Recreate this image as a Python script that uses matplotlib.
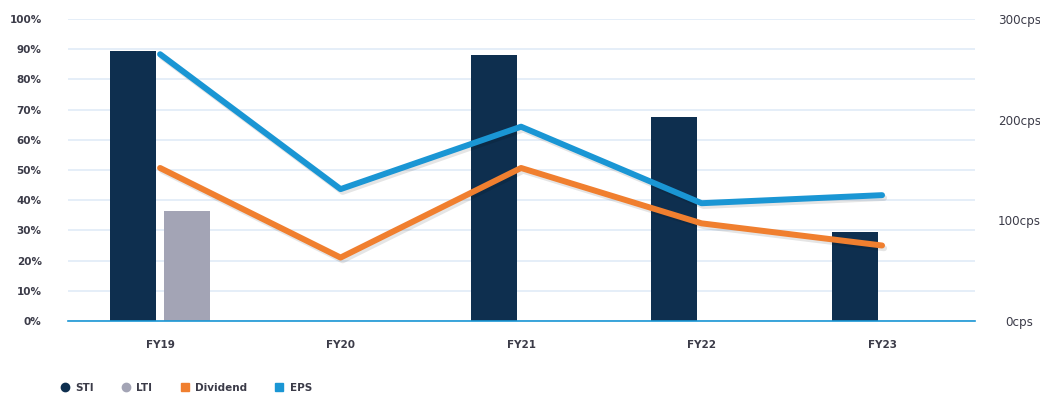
import matplotlib
matplotlib.use("Agg")
import matplotlib.pyplot as plt
import matplotlib.patheffects as pe
from matplotlib.lines import Line2D
import numpy as np

categories = ["FY19", "FY20", "FY21", "FY22", "FY23"]
sti = [89.5, 0, 88, 67.5, 29.5]          # % of max
lti = [36.5, 0, 0, 0, 0]                 # % of max
dividend = [152, 63, 152, 97, 75]        # cps
eps = [265, 131, 193, 117, 125]          # cps

left_ticks = list(range(0, 101, 10))
left_labels = [f"{v}%" for v in left_ticks]
right_ticks = [0, 100, 200, 300]
right_labels = [f"{v}cps" for v in right_ticks]

C_STI = "#0e2f4f"
C_LTI = "#a3a4b5"
C_DIV = "#f07f2f"
C_EPS = "#1a96d4"
C_GRID = "#e3edf8"
C_TXT = "#3b3b48"

plt.rcParams['font.family'] = ['DejaVu Sans']

fig = plt.figure(figsize=(10.4, 3.94), dpi=100)
ax = fig.add_axes([0.0654, 0.1853, 0.9375 - 0.0654, 0.9518 - 0.1853])
x = np.arange(len(categories))
w = 0.255
off = 0.15

ax.bar(x - off, sti, width=w, color=C_STI, zorder=2)
ax.bar(x + off, lti, width=w, color=C_LTI, zorder=2)

ax.set_ylim(0, 100)
ax.set_xlim(-0.51, 4.515)
ax.set_yticks(left_ticks)
ax.set_yticklabels(left_labels)
ax.yaxis.grid(True, color=C_GRID, linewidth=1.3, zorder=0)
ax.set_axisbelow(True)
for s in ["top", "right", "left"]:
    ax.spines[s].set_visible(False)
ax.spines["bottom"].set_color(C_EPS)
ax.spines["bottom"].set_linewidth(1.2)
ax.tick_params(axis="y", length=0, pad=19, labelsize=7.5, labelcolor=C_TXT)
ax.tick_params(axis="x", length=0, pad=14, labelsize=7.5, labelcolor=C_TXT)
ax.set_xticks(x)
ax.set_xticklabels(categories, fontweight="bold")
for t in ax.get_yticklabels():
    t.set_fontweight("bold")

ax2 = ax.twinx()
ax2.set_ylim(0, 300)
ax2.set_yticks(right_ticks)
ax2.set_yticklabels(right_labels)
for s in ["top", "right", "left", "bottom"]:
    ax2.spines[s].set_visible(False)
ax2.tick_params(axis="y", length=0, pad=32, labelsize=8.6, labelcolor=C_TXT)
for t in ax2.get_yticklabels():
    t.set_horizontalalignment("center")

shadow = [pe.SimpleLineShadow(offset=(1.5, -2), alpha=0.1, shadow_color="black"), pe.Normal()]
ax2.plot(x, dividend, color=C_DIV, linewidth=4.3, solid_capstyle="round",
         solid_joinstyle="round", path_effects=shadow, zorder=3)
ax2.plot(x, eps, color=C_EPS, linewidth=4.3, solid_capstyle="round",
         solid_joinstyle="round", path_effects=shadow, zorder=3)

handles = [
    Line2D([], [], marker="o", linestyle="none", markersize=6, color=C_STI),
    Line2D([], [], marker="o", linestyle="none", markersize=6, color=C_LTI),
    Line2D([], [], marker="s", linestyle="none", markersize=6, color=C_DIV),
    Line2D([], [], marker="s", linestyle="none", markersize=6, color=C_EPS),
]
labels = ["STI", "LTI", "Dividend", "EPS"]
leg = fig.legend(handles, labels, loc="center left", bbox_to_anchor=(0.048, 0.015),
                 ncol=4, frameon=False, fontsize=7.5, handletextpad=0.5,
                 columnspacing=2.6, handlelength=1.0)
for t in leg.get_texts():
    t.set_fontweight("bold")
    t.set_color(C_TXT)

fig.savefig("out.png", dpi=100)
